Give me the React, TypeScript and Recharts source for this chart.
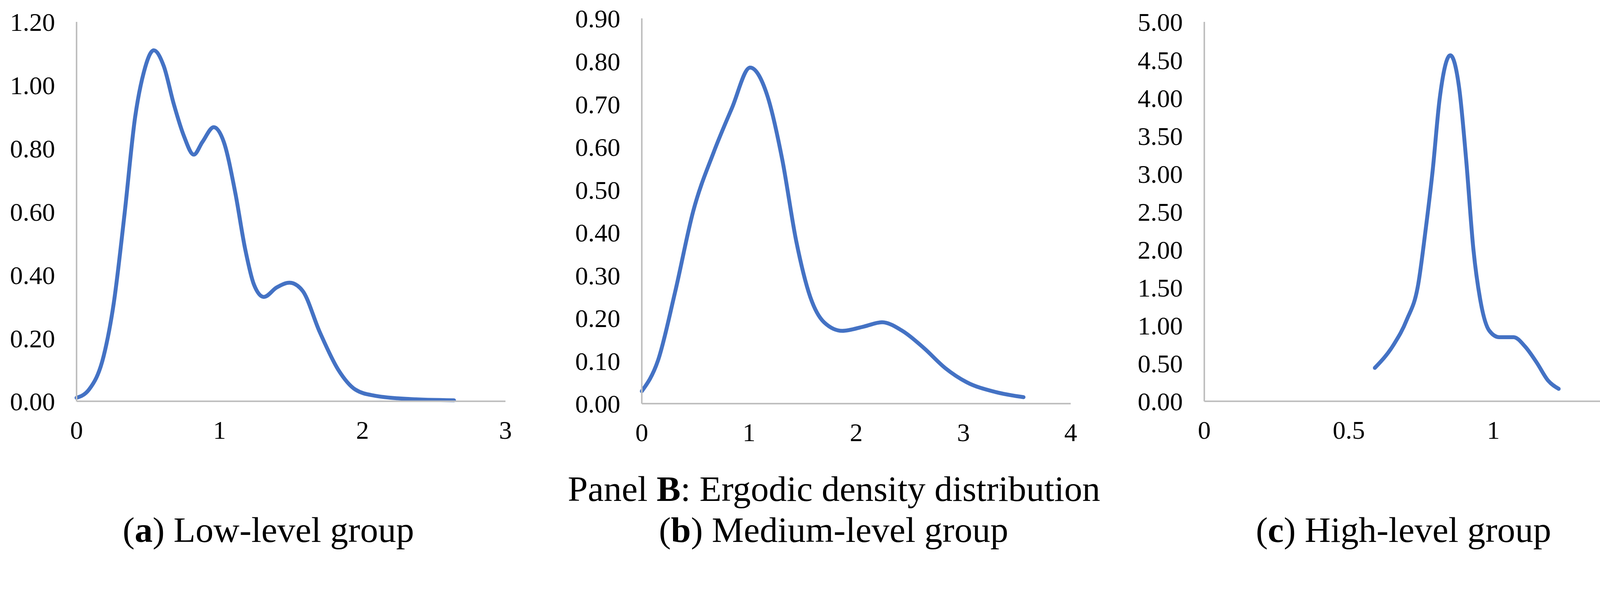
import React from "react";
import { LineChart, Line, XAxis, YAxis } from "recharts";

// (a) Low-level group
const lowX = [0, 0.087, 0.19, 0.26, 0.335, 0.41, 0.47, 0.54, 0.61, 0.68, 0.75, 0.82, 0.88, 0.96, 1.03, 1.11, 1.18, 1.24, 1.31, 1.4, 1.49, 1.58, 1.7, 1.83, 1.95, 2.08, 2.33, 2.64];
const lowY = [0.011, 0.037, 0.144, 0.31, 0.59, 0.9, 1.04, 1.11, 1.06, 0.94, 0.84, 0.78, 0.82, 0.867, 0.82, 0.66, 0.48, 0.37, 0.33, 0.36, 0.375, 0.35, 0.22, 0.1, 0.037, 0.018, 0.007, 0.003];
const lowXTicks = [0, 1, 2, 3];
const lowYTicks = [0, 0.2, 0.4, 0.6, 0.8, 1.0, 1.2];

// (b) Medium-level group
const medX = [0, 0.15, 0.31, 0.48, 0.67, 0.84, 1.01, 1.17, 1.31, 1.44, 1.57, 1.7, 1.87, 2.07, 2.24, 2.43, 2.63, 2.83, 3.03, 3.3, 3.56];
const medY = [0.029, 0.1, 0.26, 0.45, 0.587, 0.69, 0.785, 0.72, 0.57, 0.38, 0.25, 0.19, 0.17, 0.18, 0.19, 0.17, 0.13, 0.083, 0.05, 0.027, 0.015];
const medXTicks = [0, 1, 2, 3, 4];
const medYTicks = [0, 0.1, 0.2, 0.3, 0.4, 0.5, 0.6, 0.7, 0.8, 0.9];

// (c) High-level group
const highX = [0.59, 0.654, 0.7, 0.74, 0.765, 0.79, 0.814, 0.851, 0.882, 0.906, 0.931, 0.956, 0.986, 1.02, 1.07, 1.11, 1.15, 1.19, 1.226];
const highY = [0.44, 0.74, 1.07, 1.54, 2.24, 3.04, 3.98, 4.56, 4.12, 3.18, 2.0, 1.31, 0.93, 0.845, 0.845, 0.72, 0.51, 0.27, 0.164];
const highXTicks = [0, 0.5, 1, 1.5];
const highYTicks = [0, 0.5, 1, 1.5, 2, 2.5, 3, 3.5, 4, 4.5, 5];

const FONT = "'Liberation Serif', 'Times New Roman', serif";
const AXIS = "#bfbfbf";
const BLUE = "#4472C4";
const tickStyle = { fill: "#000", fontSize: 66, fontFamily: FONT };

type PanelProps = {
  xs: number[];
  ys: number[];
  xTicks: number[];
  yTicks: number[];
  left: number; // x of y axis inside panel
  right: number; // x of x max inside panel
  top: number; // y of y max
  bottom: number; // y of zero
  yDigits: number;
};

function Panel({ xs, ys, xTicks, yTicks, left, right, top, bottom, yDigits }: PanelProps) {
  const data = xs.map((x, i) => ({ x, y: ys[i] }));
  const W = right + 60;
  const H = bottom + 140;
  return (
    <LineChart width={W} height={H} data={data} margin={{ top, right: 60, bottom: 20, left: 0 }} style={{ overflow: "visible" }}>
      <XAxis
        dataKey="x"
        type="number"
        domain={[xTicks[0], xTicks[xTicks.length - 1]]}
        ticks={xTicks}
        interval={0}
        height={120}
        stroke={AXIS}
        strokeWidth={4}
        tickLine={false}
        tickSize={0}
        tickMargin={49}
        tick={tickStyle}
      />
      <YAxis
        type="number"
        domain={[yTicks[0], yTicks[yTicks.length - 1]]}
        ticks={yTicks}
        interval={0}
        width={left}
        stroke={AXIS}
        strokeWidth={4}
        tickLine={false}
        tickSize={0}
        tickMargin={55}
        tick={tickStyle}
        tickFormatter={(v: number) => v.toFixed(yDigits)}
      />
      <Line
        type="monotone"
        dataKey="y"
        stroke={BLUE}
        strokeWidth={10}
        strokeLinecap="round"
        dot={false}
        isAnimationActive={false}
      />
    </LineChart>
  );
}

function Caption({ cx, cy, children }: { cx: number; cy: number; children: React.ReactNode }) {
  return (
    <div
      style={{
        position: "absolute",
        left: cx - 1000,
        width: 2000,
        top: cy - 55,
        height: 110,
        lineHeight: "110px",
        textAlign: "center",
        fontFamily: FONT,
        fontSize: 92,
        color: "#000",
        whiteSpace: "nowrap",
      }}
    >
      {children}
    </div>
  );
}

export default function App() {
  return (
    <div style={{ position: "absolute", left: 0, top: 0, width: 4259, height: 1510, background: "#fff", overflow: "hidden" }}>
      <div style={{ position: "absolute", left: 0, top: 0 }}>
        <Panel xs={lowX} ys={lowY} xTicks={lowXTicks} yTicks={lowYTicks} left={196} right={1294} top={56} bottom={1027} yDigits={2} />
      </div>
      <div style={{ position: "absolute", left: 1420, top: 0 }}>
        <Panel xs={medX} ys={medY} xTicks={medXTicks} yTicks={medYTicks} left={223} right={1321} top={47} bottom={1033} yDigits={2} />
      </div>
      <div style={{ position: "absolute", left: 2839, top: 0 }}>
        <Panel xs={highX} ys={highY} xTicks={highXTicks} yTicks={highYTicks} left={244} right={1354} top={56} bottom={1027} yDigits={2} />
      </div>
      <Caption cx={2135} cy={1251}>
        Panel <b>B</b>: Ergodic density distribution
      </Caption>
      <Caption cx={687} cy={1356}>
        (<b>a</b>) Low-level group
      </Caption>
      <Caption cx={2134} cy={1356}>
        (<b>b</b>) Medium-level group
      </Caption>
      <Caption cx={3593} cy={1356}>
        (<b>c</b>) High-level group
      </Caption>
    </div>
  );
}
